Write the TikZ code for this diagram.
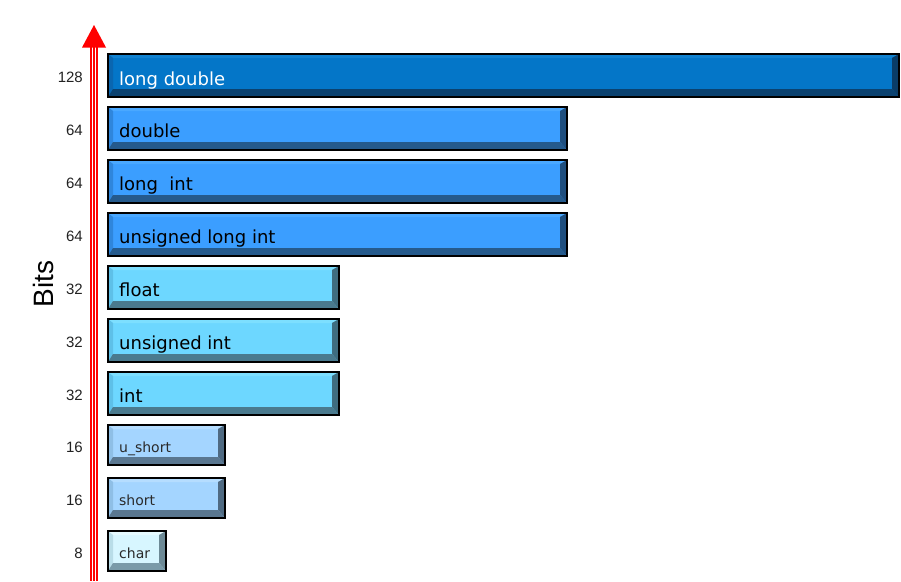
\documentclass[tikz,border=0pt]{standalone}
\usepackage{fontspec}
\setmainfont{DejaVu Sans}
\newfontfamily\numfont{Liberation Sans}
\definecolor{ldF}{HTML}{0476C8}\definecolor{ldL}{HTML}{0A66B0}\definecolor{ldT}{HTML}{1282D0}\definecolor{ldR}{HTML}{0A3D68}\definecolor{ldB}{HTML}{0B4270}
\definecolor{dbF}{HTML}{3B9EFF}\definecolor{dbL}{HTML}{2F86DC}\definecolor{dbT}{HTML}{4AA8FF}\definecolor{dbR}{HTML}{1F4F7F}\definecolor{dbB}{HTML}{255A8C}
\definecolor{flF}{HTML}{6DD7FF}\definecolor{flL}{HTML}{5EC0E8}\definecolor{flT}{HTML}{7DDFFF}\definecolor{flR}{HTML}{3F6D80}\definecolor{flB}{HTML}{4A7A8E}
\definecolor{shF}{HTML}{A4D5FF}\definecolor{shL}{HTML}{8FBFE6}\definecolor{shT}{HTML}{B5DDFF}\definecolor{shR}{HTML}{4F6A82}\definecolor{shB}{HTML}{5A7790}
\definecolor{chF}{HTML}{D7F6FF}\definecolor{chL}{HTML}{B9DDE8}\definecolor{chT}{HTML}{E5FAFF}\definecolor{chR}{HTML}{6D8A96}\definecolor{chB}{HTML}{7A9AA8}
\definecolor{numc}{HTML}{222222}
\definecolor{smallc}{HTML}{2A2A2A}
% #1 name, #2 x right, #3 y top, #4 y bottom, #5 colour prefix
\newcommand\bevbar[5]{%
  \node[inner sep=0, outer sep=0, minimum width={#2-108}, minimum height={#4-#3}, anchor=north west, fill=#5F] (#1) at (108,#3) {};
  \fill[#5T] (108,#3) -- (#2,#3) -- (#2-7,#3+4) -- (108+5,#3+4) -- cycle;
  \fill[#5L] (108,#3) -- (108+5,#3+4) -- (108+5,#4-8) -- (108,#4) -- cycle;
  \fill[#5R] (#2,#3) -- (#2,#4) -- (#2-7,#4-8) -- (#2-7,#3+4) -- cycle;
  \fill[#5B] (108,#4) -- (#2,#4) -- (#2-7,#4-8) -- (108+5,#4-8) -- cycle;
  \draw[line width=1.5pt, black] (#1.north west) rectangle (#1.south east);
}
\tikzset{
  biglabel/.style={anchor=base west, inner sep=0, font=\fontsize{18}{20}\selectfont, text=black},
  smalllabel/.style={anchor=base west, inner sep=0, font=\fontsize{14}{16}\selectfont, text=smallc},
  numlabel/.style={anchor=base east, inner sep=0, font=\numfont\fontsize{15}{17}\selectfont, text=numc},
}
\begin{document}
\begin{tikzpicture}[x=1pt,y=-1pt]
\useasboundingbox[fill=white] (0,0) rectangle (901,581);
% axis
\fill[red] (90,47) rectangle (97.5,581);
\fill[white] (92,47) rectangle (93.2,581);
\fill[white] (94.6,47) rectangle (95.8,581);
\fill[red] (94,25) -- (106,47.5) -- (82,47.5) -- cycle;
\node[font=\numfont\fontsize{28}{30}\selectfont, rotate=90, inner sep=0] (bits) at (43,284) {Bits};
% bars
\bevbar{ld}{899}{54}{97}{ld}
\bevbar{db}{567}{107}{150}{db}
\bevbar{li}{567}{160}{203}{db}
\bevbar{uli}{567}{213}{256}{db}
\bevbar{fl}{339}{266}{309}{fl}
\bevbar{ui}{339}{319}{362}{fl}
\bevbar{in}{339}{372}{415}{fl}
\bevbar{us}{225}{425}{465}{sh}
\bevbar{sh}{225}{478}{518}{sh}
\bevbar{ch}{166}{531}{571}{ch}
% labels
\node[biglabel, text=white] (tld) at (119,85) {long double};
\node[biglabel] (tdb) at (119,137) {double};
\node[biglabel] (tli) at (119,190) {long\ \ int};
\node[biglabel] (tuli) at (119,243) {unsigned long int};
\node[biglabel] (tfl) at (119,296) {float};
\node[biglabel] (tui) at (119,349) {unsigned int};
\node[biglabel] (tin) at (119,402) {int};
\node[smalllabel] (tus) at (119,452) {u\_short};
\node[smalllabel] (tsh) at (119,505) {short};
\node[smalllabel] (tch) at (119,558) {char};
% numbers
\node[numlabel] (n1) at (83,82) {128};
\node[numlabel] (n2) at (83,135) {64};
\node[numlabel] (n3) at (83,188) {64};
\node[numlabel] (n4) at (83,241) {64};
\node[numlabel] (n5) at (83,294) {32};
\node[numlabel] (n6) at (83,347) {32};
\node[numlabel] (n7) at (83,400) {32};
\node[numlabel] (n8) at (83,452) {16};
\node[numlabel] (n9) at (83,505) {16};
\node[numlabel] (n10) at (83,558) {8};
\end{tikzpicture}
\end{document}
